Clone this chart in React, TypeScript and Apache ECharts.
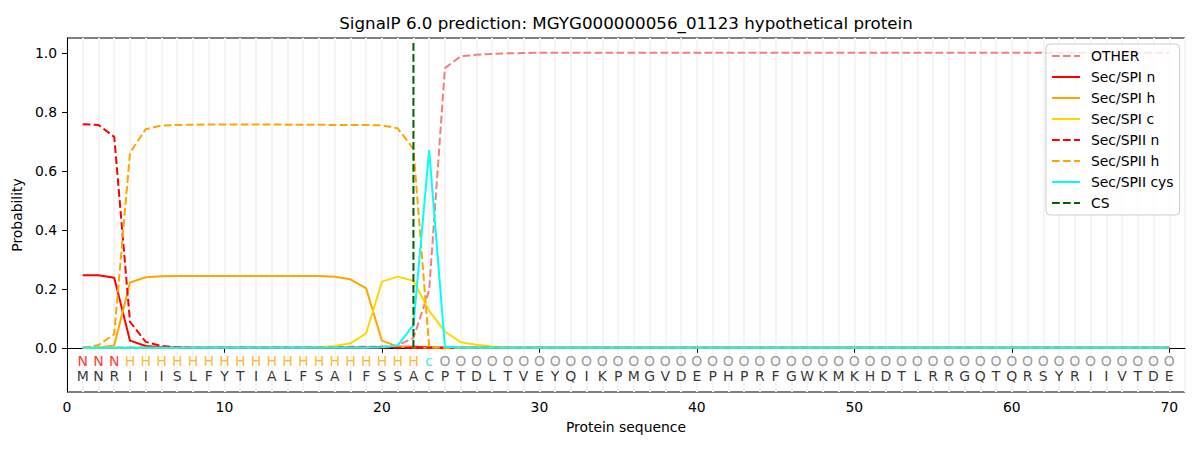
import React, { useEffect, useRef } from "react";
import * as echarts from "echarts";

const TITLE = "SignalP 6.0 prediction: MGYG000000056_01123 hypothetical protein";
const sequence = "MNRIIISLFYTIALFSAIFSSACPTDLTVEYQIKPMGVDEPHPRFGWKMKHDTLRRGQTQRSYRIIVTDE".split("");
const regionLabels = "NNNHHHHHHHHHHHHHHHHHHHcOOOOOOOOOOOOOOOOOOOOOOOOOOOOOOOOOOOOOOOOOOOOOOO".split("");
const regionColors: Record<string, string> = { N: "#ff0000", H: "#ffa500", c: "#00e5ee", O: "#808080" };

const other = [
  0.001, 0.001, 0.001, 0.001, 0.001, 0.001, 0.001, 0.001, 0.001, 0.001,
  0.001, 0.001, 0.001, 0.001, 0.001, 0.001, 0.002, 0.003, 0.003, 0.004,
  0.008, 0.033, 0.195, 0.948, 0.988, 0.993, 0.996, 0.998, 0.999, 1.0,
  1, 1, 1, 1, 1, 1, 1, 1, 1, 1,
  1, 1, 1, 1, 1, 1, 1, 1, 1, 1,
  1, 1, 1, 1, 1, 1, 1, 1, 1, 1,
  1, 1, 1, 1, 1, 1, 1, 1, 1, 1,
];
const spiN = [
  0.246, 0.246, 0.237, 0.024, 0.006, 0.002, 0, 0, 0, 0,
  0, 0, 0, 0, 0, 0, 0, 0, 0, 0.002,
  0.003, 0.003, 0.002, 0, 0, 0, 0, 0, 0, 0,
  0, 0, 0, 0, 0, 0, 0, 0, 0, 0,
  0, 0, 0, 0, 0, 0, 0, 0, 0, 0,
  0, 0, 0, 0, 0, 0, 0, 0, 0, 0,
  0, 0, 0, 0, 0, 0, 0, 0, 0, 0,
];
const spiH = [
  0, 0.001, 0.008, 0.221, 0.239, 0.242, 0.243, 0.243, 0.243, 0.243,
  0.243, 0.243, 0.243, 0.243, 0.243, 0.243, 0.241, 0.232, 0.201, 0.024,
  0.004, 0.001, 0, 0, 0, 0, 0, 0, 0, 0,
  0, 0, 0, 0, 0, 0, 0, 0, 0, 0,
  0, 0, 0, 0, 0, 0, 0, 0, 0, 0,
  0, 0, 0, 0, 0, 0, 0, 0, 0, 0,
  0, 0, 0, 0, 0, 0, 0, 0, 0, 0,
];
const spiC = [
  0, 0, 0, 0, 0, 0, 0, 0, 0, 0,
  0, 0, 0, 0, 0, 0.002, 0.006, 0.015, 0.049, 0.224,
  0.241, 0.227, 0.125, 0.055, 0.019, 0.01, 0.004, 0.002, 0, 0,
  0, 0, 0, 0, 0, 0, 0, 0, 0, 0,
  0, 0, 0, 0, 0, 0, 0, 0, 0, 0,
  0, 0, 0, 0, 0, 0, 0, 0, 0, 0,
  0, 0, 0, 0, 0, 0, 0, 0, 0, 0,
];
const spiiN = [
  0.758, 0.755, 0.715, 0.088, 0.02, 0.006, 0.002, 0, 0, 0,
  0, 0, 0, 0, 0, 0, 0, 0, 0, 0,
  0, 0, 0, 0, 0, 0, 0, 0, 0, 0,
  0, 0, 0, 0, 0, 0, 0, 0, 0, 0,
  0, 0, 0, 0, 0, 0, 0, 0, 0, 0,
  0, 0, 0, 0, 0, 0, 0, 0, 0, 0,
  0, 0, 0, 0, 0, 0, 0, 0, 0, 0,
];
const spiiH = [
  0, 0.009, 0.046, 0.661, 0.741, 0.753, 0.755, 0.756, 0.757, 0.757,
  0.757, 0.757, 0.757, 0.756, 0.756, 0.756, 0.755, 0.755, 0.755, 0.754,
  0.744, 0.674, 0.002, 0, 0, 0, 0, 0, 0, 0,
  0, 0, 0, 0, 0, 0, 0, 0, 0, 0,
  0, 0, 0, 0, 0, 0, 0, 0, 0, 0,
  0, 0, 0, 0, 0, 0, 0, 0, 0, 0,
  0, 0, 0, 0, 0, 0, 0, 0, 0, 0,
];
const spiiCys = [
  0, 0, 0, 0, 0, 0, 0, 0, 0, 0,
  0, 0, 0, 0, 0, 0, 0, 0, 0, 0.002,
  0.008, 0.077, 0.67, 0.004, 0, 0, 0, 0, 0, 0,
  0, 0, 0, 0, 0, 0, 0, 0, 0, 0,
  0, 0, 0, 0, 0, 0, 0, 0, 0, 0,
  0, 0, 0, 0, 0, 0, 0, 0, 0, 0,
  0, 0, 0, 0, 0, 0, 0, 0, 0, 0,
];
const csPosition = 22;
const csLineTop = 1.035;
const xTicks = [0, 10, 20, 30, 40, 50, 60, 70];
const yTicks = [0, 0.2, 0.4, 0.6, 0.8, 1.0];

const FONT = "DejaVu Sans";
const DASH = [7.7, 3.3];

export default function App() {
  const ref = useRef<HTMLDivElement>(null);
  useEffect(() => {
    if (!ref.current) return;
    const chart = echarts.init(ref.current, undefined, { renderer: "svg" });
    const toXY = (arr: number[]) => arr.map((v, i) => [i + 1, v]);
    const lineSeries = (name: string, data: number[], color: string, dashed: boolean) => ({
      name,
      type: "line",
      data: toXY(data),
      symbol: "none",
      lineStyle: { color, width: 2, type: dashed ? DASH : "solid" },
      itemStyle: { color },
      z: 3,
    });
    const letterSeries = (name: string, letters: string[], y: number, colorOf: (s: string) => string) => ({
      name,
      type: "scatter",
      symbolSize: 0,
      data: letters.map((s, i) => ({
        value: [i + 1, y],
        label: { show: true, formatter: s, color: colorOf(s) },
      })),
      label: { show: true, position: "inside", fontSize: 14, fontFamily: FONT },
      silent: true,
      z: 4,
    });
    const option: any = {
      animation: false,
      backgroundColor: "#ffffff",
      textStyle: { fontFamily: FONT },
      grid: { left: 67, right: 15, top: 38, bottom: 58, show: true, borderColor: "#000", borderWidth: 1, backgroundColor: "transparent" },
      graphic: [
        {
          type: "text",
          x: 626,
          y: 23,
          style: { text: TITLE, fontSize: 16.7, fontFamily: FONT, fill: "#000", textAlign: "center", textVerticalAlign: "middle" },
        },
      ],
      legend: {
        data: ["OTHER", "Sec/SPI n", "Sec/SPI h", "Sec/SPI c", "Sec/SPII n", "Sec/SPII h", "Sec/SPII cys", "CS"],
        orient: "vertical",
        left: 1046,
        top: 44,
        padding: [5, 6, 5, 5],
        itemWidth: 28,
        itemHeight: 14,
        itemGap: 7,
        itemStyle: { opacity: 0 },
        backgroundColor: "rgba(255,255,255,0.8)",
        borderColor: "#cccccc",
        borderWidth: 1,
        borderRadius: 4,
        textStyle: { fontSize: 13.9, fontFamily: FONT, color: "#000", lineHeight: 14, padding: [0, 0, 0, 6] },
      },
      xAxis: [
        {
          type: "value",
          min: 0,
          max: 71,
          interval: 10,
          name: "Protein sequence",
          nameLocation: "middle",
          nameGap: 28,
          nameTextStyle: { fontSize: 13.9, color: "#000", fontFamily: FONT },
          axisLine: { show: true, lineStyle: { color: "#000", width: 1 } },
          axisTick: { show: true, length: 5, lineStyle: { color: "#000" }, customValues: xTicks },
          axisLabel: { fontSize: 13.9, color: "#000", margin: 8, customValues: xTicks },
          splitLine: { show: false },
        },
        {
          type: "value",
          min: 0,
          max: 71,
          interval: 1,
          position: "bottom",
          axisLine: { show: false },
          axisTick: { show: false },
          axisLabel: { show: false },
          splitLine: { show: true, lineStyle: { color: "#f5f5f5", width: 2 } },
        },
      ],
      yAxis: {
        type: "value",
        min: -0.15,
        max: 1.05,
        name: "Probability",
        nameLocation: "middle",
        nameGap: 36,
        nameTextStyle: { fontSize: 13.9, color: "#000", fontFamily: FONT },
        axisLine: { show: true, lineStyle: { color: "#000", width: 1 } },
        axisTick: { show: true, length: 5, lineStyle: { color: "#000" }, customValues: yTicks },
        axisLabel: { fontSize: 13.9, color: "#000", margin: 10, customValues: yTicks, formatter: (v: number) => v.toFixed(1) },
        splitLine: { show: false },
      },
      series: [
        lineSeries("OTHER", other, "#f08080", true),
        lineSeries("Sec/SPI n", spiN, "#ff0000", false),
        lineSeries("Sec/SPI h", spiH, "#ffa500", false),
        lineSeries("Sec/SPI c", spiC, "#ffd700", false),
        lineSeries("Sec/SPII n", spiiN, "#ff0000", true),
        lineSeries("Sec/SPII h", spiiH, "#ffa500", true),
        lineSeries("Sec/SPII cys", spiiCys, "#00ffff", false),
        {
          name: "CS",
          type: "line",
          data: [[csPosition, 0], [csPosition, csLineTop]],
          symbol: "none",
          lineStyle: { color: "#006400", width: 2, type: DASH },
          itemStyle: { color: "#006400" },
          z: 3,
        },
        letterSeries("regions", regionLabels, -0.045, (s) => regionColors[s] || "#000"),
        letterSeries("sequence", sequence, -0.096, () => "#000"),
      ],
    };
    chart.setOption(option);
    return () => chart.dispose();
  }, []);
  return (
    <div
      ref={ref}
      style={{ position: "absolute", left: 0, top: 0, width: 1200, height: 450, background: "#fff" }}
    />
  );
}
